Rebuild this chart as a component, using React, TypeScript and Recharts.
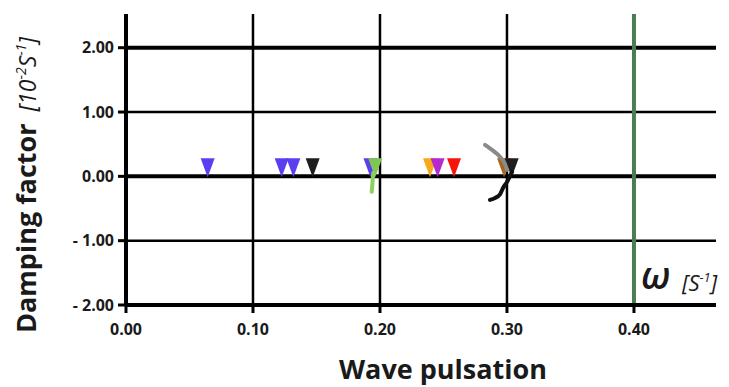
import React from "react";
import { ComposedChart, XAxis, YAxis, Scatter, ReferenceLine } from "recharts";

// ---- data ----
const xTicks = [0, 0.1, 0.2, 0.3, 0.4];
const yTicks = [-2, -1, 0, 1, 2];
const xDomain = [0, 0.4646];
const yDomain = [-2, 2.524];

const bluePoints = [
  { x: 0.0643, y: 0 },
  { x: 0.1226, y: 0 },
  { x: 0.1318, y: 0 },
  { x: 0.1925, y: 0 },
];
const orangePoints = [{ x: 0.2394, y: 0 }];
const purplePoints = [{ x: 0.2454, y: 0 }];
const redPoints = [{ x: 0.2583, y: 0 }];
const brownPoints = [{ x: 0.2977, y: 0 }];
const greenPoints = [{ x: 0.1962, y: 0 }];
const blackPoints = [
  { x: 0.147, y: 0 },
  { x: 0.3037, y: 0 },
];

const grayCurve = [
  { x: 0.2827, y: 0.488 },
  { x: 0.2866, y: 0.434 },
  { x: 0.2913, y: 0.364 },
  { x: 0.2953, y: 0.286 },
  { x: 0.2984, y: 0.193 },
  { x: 0.3, y: 0.1 },
];
const blackCurve = [
  { x: 0.2866, y: -0.367 },
  { x: 0.2906, y: -0.336 },
  { x: 0.2945, y: -0.281 },
  { x: 0.2969, y: -0.18 },
  { x: 0.3, y: -0.087 },
  { x: 0.3024, y: 0.006 },
  { x: 0.304, y: 0.07 },
];
const greenStem = [
  { x: 0.1947, y: 0.05 },
  { x: 0.1935, y: -0.24 },
];

const thickY = [2, 0];
const thinY = [1, -1];
const gridX = [0.1, 0.2, 0.3];
const markerX = 0.4;

const FONT = "'Open Sans', 'DejaVu Sans', sans-serif";

const fmt = (v: number) => (v < 0 ? `- ${Math.abs(v).toFixed(2)}` : v.toFixed(2));

const Tri = (props: any) => {
  const { cx, cy, fill } = props;
  if (cx == null || cy == null) return <g />;
  const d = `M${cx - 7},${cy - 18} L${cx + 7},${cy - 18} L${cx},${cy + 1} Z`;
  return <path d={d} fill={fill} />;
};
const None = () => <g />;

const tickStyle = { fill: "#1a1a1a", fontSize: 16, fontWeight: 700, fontFamily: FONT };

export default function App() {
  return (
    <div style={{ position: "absolute", left: 0, top: 0, width: 729, height: 387, background: "#fff" }}>
      <ComposedChart
        width={729}
        height={387}
        margin={{ top: 14, right: 13, bottom: 0, left: 0 }}
      >
        <XAxis
          dataKey="x"
          type="number"
          domain={xDomain}
          ticks={xTicks}
          allowDataOverflow
          height={82}
          tickSize={8}
          tickMargin={11}
          axisLine={{ stroke: "#000", strokeWidth: 4 }}
          tickLine={{ stroke: "#000", strokeWidth: 3 }}
          tickFormatter={fmt}
          tick={tickStyle}
        />
        <YAxis
          dataKey="y"
          type="number"
          domain={yDomain}
          ticks={yTicks}
          allowDataOverflow
          width={126}
          tickSize={8}
          tickMargin={4}
          axisLine={{ stroke: "#000", strokeWidth: 4 }}
          tickLine={{ stroke: "#000", strokeWidth: 3 }}
          tickFormatter={fmt}
          tick={tickStyle}
        />
        {thinY.map((v) => (
          <ReferenceLine key={"ty" + v} y={v} stroke="#000" strokeWidth={2.5} />
        ))}
        {thickY.map((v) => (
          <ReferenceLine key={"Ty" + v} y={v} stroke="#000" strokeWidth={4} />
        ))}
        {gridX.map((v) => (
          <ReferenceLine key={"gx" + v} x={v} stroke="#000" strokeWidth={2.5} />
        ))}
        <ReferenceLine x={markerX} stroke="#4a7d50" strokeWidth={4} />

        <Scatter data={bluePoints} fill="#5a3ff0" shape={Tri} isAnimationActive={false} />
        <Scatter data={orangePoints} fill="#f7a81b" shape={Tri} isAnimationActive={false} />
        <Scatter data={purplePoints} fill="#b52ad0" shape={Tri} isAnimationActive={false} />
        <Scatter data={redPoints} fill="#f5150a" shape={Tri} isAnimationActive={false} />
        <Scatter data={brownPoints} fill="#a8651c" shape={Tri} isAnimationActive={false} />
        <Scatter data={greenPoints} fill="#7fc751" shape={Tri} isAnimationActive={false} />
        <Scatter data={blackPoints} fill="#1e1e1e" shape={Tri} isAnimationActive={false} />

        <Scatter
          data={grayCurve}
          fill="#8a8a8a"
          shape={None}
          line={{ stroke: "#8a8a8a", strokeWidth: 4, strokeLinecap: "round" }}
          lineJointType="monotoneX"
          isAnimationActive={false}
        />
        <Scatter
          data={blackCurve}
          fill="#111"
          shape={None}
          line={{ stroke: "#111", strokeWidth: 4, strokeLinecap: "round" }}
          lineJointType="monotoneX"
          isAnimationActive={false}
        />
        <Scatter
          data={greenStem}
          fill="#8ed05a"
          shape={None}
          line={{ stroke: "#8ed05a", strokeWidth: 4, strokeLinecap: "round" }}
          isAnimationActive={false}
        />
      </ComposedChart>
      <svg
        width={729}
        height={387}
        style={{ position: "absolute", left: 0, top: 0, pointerEvents: "none" }}
      >
        <text transform="translate(36,333) rotate(-90)" fontFamily={FONT} fill="#1a1a1a">
          <tspan fontWeight={700} fontSize={27}>Damping factor</tspan>
          <tspan fontStyle="italic" fontSize={23} dx={12}>[10</tspan>
          <tspan fontStyle="italic" fontSize={14} dy={-10}>-2</tspan>
          <tspan fontStyle="italic" fontSize={23} dy={10}>S</tspan>
          <tspan fontStyle="italic" fontSize={14} dy={-10}>-1</tspan>
          <tspan fontStyle="italic" fontSize={23} dy={10}>]</tspan>
        </text>
        <text x={443} y={379} textAnchor="middle" fontFamily={FONT} fontWeight={700} fontSize={27} fill="#1a1a1a">
          Wave pulsation
        </text>
        <text x={641} y={289} fontFamily={FONT} fontStyle="italic" fontWeight={600} fontSize={38} fill="#1a1a1a">
          ω
        </text>
        <text x={682} y={291} fontFamily={FONT} fontStyle="italic" fontSize={22} fill="#1a1a1a">
          <tspan>[S</tspan>
          <tspan fontSize={13} dy={-9}>-1</tspan>
          <tspan fontSize={22} dy={9}>]</tspan>
        </text>
      </svg>
    </div>
  );
}
